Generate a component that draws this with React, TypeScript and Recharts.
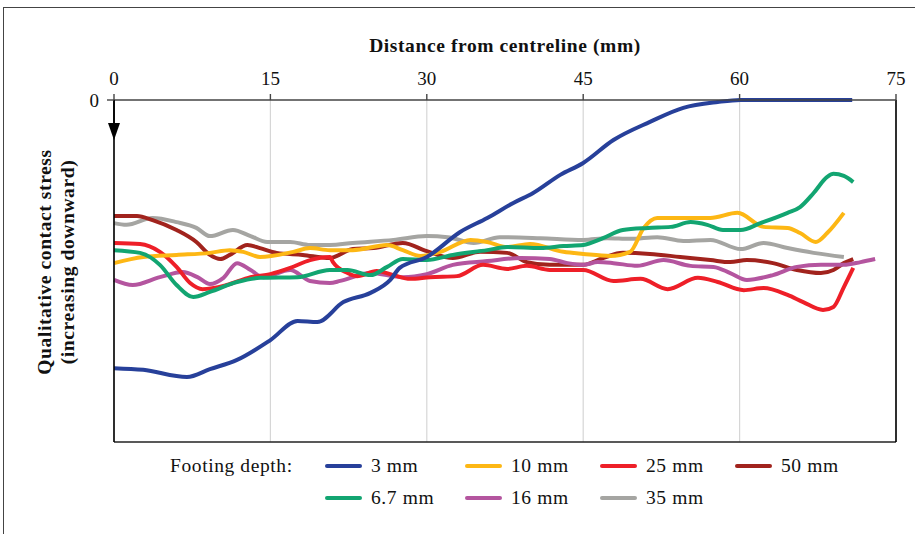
import React from 'react';
import { LineChart, Line, XAxis, YAxis, CartesianGrid, ReferenceLine } from 'recharts';

// distance from centreline (mm), qualitative stress (0 at top, increasing downward)
const depth3mm: [number, number][] = [
  [0, 78.4], [2.8, 78.9], [7.0, 81.0], [9.2, 78.7], [11.8, 76.0], [15.0, 70.2], [17.6, 64.6],
  [19.5, 64.9], [22.0, 59.1], [24.6, 56.4], [26.5, 52.6], [27.4, 49.1], [30.0, 45.9], [33.2, 38.6],
  [35.8, 34.5], [38.3, 30.1], [40.2, 27.2], [42.8, 21.9], [45.0, 18.4], [47.9, 11.7], [51.4, 6.4],
  [54.6, 2.3], [57.9, 0.6], [60.1, 0], [65.0, 0], [70.8, 0],
];
const depth6_7mm: [number, number][] = [
  [0, 43.9], [2.5, 44.7], [4.4, 48.2], [6.0, 54.1], [7.6, 57.6], [9.2, 56.1], [11.8, 53.2],
  [14.0, 52.0], [17.6, 51.8], [20.7, 49.7], [22.4, 49.7], [24.6, 51.2], [26.2, 48.8], [27.7, 46.5],
  [30.0, 46.8], [32.5, 45.3], [35.8, 43.9], [37.7, 43.0], [40.9, 43.3], [43.1, 42.7], [45.0, 42.4],
  [46.9, 40.4], [48.8, 38.0], [51.2, 37.4], [53.4, 37.1], [55.3, 35.7], [56.9, 36.5], [58.4, 38.0],
  [60.1, 38.0], [62.0, 36.0], [64.6, 33.0], [65.8, 31.3], [67.1, 27.2], [68.4, 22.5], [69.0, 21.6],
  [70.0, 22.2], [70.9, 24.0],
];
const depth10mm: [number, number][] = [
  [0, 47.7], [2.8, 45.9], [6.0, 45.3], [9.2, 44.7], [11.1, 43.9], [12.4, 44.4], [14.0, 45.9],
  [17.2, 44.4], [18.8, 43.3], [20.7, 43.9], [22.9, 43.9], [26.2, 42.4], [27.7, 43.9], [29.4, 45.6],
  [31.3, 44.4], [34.2, 40.9], [35.8, 41.5], [37.7, 43.0], [39.9, 42.1], [43.1, 44.4], [45.0, 45.0],
  [47.6, 45.6], [49.5, 44.4], [50.8, 37.4], [52.1, 34.5], [54.3, 34.5], [57.2, 34.5], [59.8, 33.0],
  [62.3, 37.1], [64.6, 37.4], [65.8, 38.9], [67.3, 41.5], [68.4, 38.9], [70.0, 33.0],
];
const depth16mm: [number, number][] = [
  [0, 52.6], [1.8, 54.1], [4.4, 51.8], [6.6, 50.3], [8.0, 51.8], [9.2, 53.8], [10.5, 52.0],
  [11.8, 47.7], [13.1, 49.7], [14.3, 51.8], [16.9, 49.7], [18.8, 52.9], [20.7, 53.5], [21.7, 52.9],
  [24.6, 50.6], [27.7, 51.8], [30.0, 50.9], [32.5, 48.2], [35.8, 47.1], [39.0, 46.2], [41.8, 46.5],
  [43.5, 47.7], [45.0, 48.2], [46.4, 47.4], [47.9, 47.7], [50.2, 48.5], [52.7, 46.8], [55.3, 48.5],
  [57.5, 48.8], [59.1, 50.6], [60.7, 52.6], [63.2, 51.2], [65.5, 48.8], [67.8, 48.2], [70.0, 48.2],
  [71.6, 47.4], [73.0, 46.5],
];
const depth25mm: [number, number][] = [
  [0, 41.8], [2.5, 42.1], [4.4, 44.4], [6.0, 48.8], [7.3, 53.5], [8.5, 55.3], [10.8, 54.1],
  [13.1, 51.8], [15.0, 50.9], [16.9, 49.1], [18.8, 46.8], [20.7, 45.9], [21.0, 47.4], [22.4, 50.6],
  [23.3, 51.5], [25.2, 50.0], [26.8, 51.2], [28.4, 52.3], [30.3, 51.8], [32.9, 51.5], [35.4, 48.2],
  [37.7, 49.4], [39.6, 48.5], [41.8, 49.7], [45.0, 49.7], [47.9, 52.9], [50.5, 52.3], [53.1, 55.3],
  [56.0, 52.0], [57.9, 53.2], [60.4, 55.6], [62.3, 55.0], [64.6, 57.0], [66.1, 59.1], [68.0, 61.4],
  [69.0, 60.5], [70.0, 54.7], [70.9, 49.1],
];
const depth35mm: [number, number][] = [
  [0, 36.0], [1.2, 36.5], [3.7, 34.5], [6.0, 35.7], [7.9, 37.4], [9.2, 39.8], [11.4, 38.0],
  [13.1, 39.8], [14.7, 41.5], [16.9, 41.5], [18.8, 42.4], [20.7, 42.4], [22.9, 41.8], [26.8, 40.9],
  [30.0, 39.8], [32.0, 40.1], [34.5, 41.8], [37.0, 40.1], [40.9, 40.4], [45.0, 40.9], [47.3, 40.4],
  [49.5, 40.6], [52.1, 40.1], [54.6, 41.2], [57.2, 40.9], [60.1, 43.6], [62.3, 41.8], [64.6, 43.3],
  [67.1, 44.7], [70.0, 45.9],
];
const depth50mm: [number, number][] = [
  [0, 33.9], [2.2, 33.9], [3.7, 35.1], [6.0, 38.0], [7.9, 41.5], [9.2, 45.3], [10.2, 46.5],
  [11.1, 45.3], [12.8, 42.4], [14.0, 43.3], [15.6, 44.7], [18.1, 45.3], [20.7, 46.2], [22.9, 43.6],
  [24.9, 43.3], [27.7, 41.8], [30.0, 44.2], [32.5, 46.2], [35.1, 44.4], [37.7, 44.7], [39.6, 47.4],
  [41.8, 48.2], [45.0, 48.2], [46.9, 46.2], [48.8, 44.7], [51.4, 45.0], [54.3, 45.9], [57.2, 46.8],
  [59.1, 47.4], [60.7, 46.8], [63.2, 47.7], [65.5, 49.7], [67.8, 50.6], [69.0, 49.7], [70.0, 47.7],
  [70.9, 46.5],
];

const xTicks = [0, 15, 30, 45, 60, 75];
const yTicks = [0];

// legend order: column by column, two rows
const series = [
  { name: '3 mm', color: '#27409a', data: depth3mm },
  { name: '6.7 mm', color: '#12a571', data: depth6_7mm },
  { name: '10 mm', color: '#fdb714', data: depth10mm },
  { name: '16 mm', color: '#b4559f', data: depth16mm },
  { name: '25 mm', color: '#ee1f28', data: depth25mm },
  { name: '35 mm', color: '#a5a5a2', data: depth35mm },
  { name: '50 mm', color: '#a1231d', data: depth50mm },
];

// drawing order: deepest footing first so 3 mm sits on top
const drawOrder = ['35 mm', '50 mm', '16 mm', '25 mm', '10 mm', '6.7 mm', '3 mm'];

const toPoints = (pts: [number, number][]) => pts.map(([x, y]) => ({ x, y }));

const serif = '"Liberation Serif", "DejaVu Serif", serif';
const textStyle = { fontFamily: serif, fontSize: 19.5, letterSpacing: 0.6, color: '#111' };

const ArrowDown = (props: any) => {
  const { x1, y1, y2 } = props;
  return (
    <g>
      <line x1={x1} y1={y1} x2={x1} y2={y2 - 12} stroke="#000" strokeWidth={1.6} />
      <polygon points={`${x1 - 6},${y2 - 17} ${x1 + 6},${y2 - 17} ${x1},${y2}`} fill="#000" />
    </g>
  );
};

const LegendBlock = () => (
  <div style={{ position: 'absolute', left: 0, top: 450, width: 915, height: 70, ...textStyle }}>
    <div style={{ position: 'absolute', left: 170, top: 4, lineHeight: '24px' }}>Footing depth:</div>
    {series.map((s, i) => {
      const col = Math.floor(i / 2);
      const row = i % 2;
      const left = [325, 465, 600, 735][col];
      const top = 4 + row * 32;
      return (
        <div key={s.name} style={{ position: 'absolute', left, top, height: 24, display: 'flex', alignItems: 'center' }}>
          <span style={{ display: 'inline-block', width: 37, height: 4, borderRadius: 2, background: s.color, marginRight: 9 }} />
          <span style={{ lineHeight: '24px' }}>{s.name}</span>
        </div>
      );
    })}
  </div>
);

export default function App() {
  return (
    <div style={{ position: 'absolute', left: 0, top: 0, width: 915, height: 534, overflow: 'hidden', background: '#fff' }}>
      <div style={{ position: 'absolute', left: 3, top: 7, width: 930, height: 560, border: '1.5px solid #444' }} />
      <div style={{ position: 'absolute', left: 0, top: 35, width: 1010, textAlign: 'center', ...textStyle, fontWeight: 'bold' }}>
        Distance from centreline (mm)
      </div>
      <div style={{ position: 'absolute', left: 56, top: 263, width: 0, height: 0 }}>
        <div
          style={{
            position: 'absolute', left: -160, top: -24, width: 320, textAlign: 'center',
            transform: 'rotate(-90deg)', ...textStyle, fontWeight: 'bold', lineHeight: '23px',
          }}
        >
          Qualitative contact stress
          <br />
          (increasing downward)
        </div>
      </div>
      <div style={{ position: 'absolute', left: 0, top: 0 }}>
        <LineChart width={915} height={534} margin={{ top: 70, right: 19, bottom: 92, left: 74 }}>
          <CartesianGrid horizontal={false} stroke="#d6d6d6" strokeWidth={1.2} />
          <XAxis
            dataKey="x"
            type="number"
            orientation="top"
            domain={[0, 75]}
            ticks={xTicks}
            allowDuplicatedCategory={false}
            axisLine={{ stroke: '#444', strokeWidth: 1.6 }}
            tickLine={{ stroke: '#444', strokeWidth: 1.4 }}
            tickSize={6}
            tickMargin={9}
            tick={{ fontFamily: serif, fontSize: 19, fill: '#111' }}
            height={30}
          />
          <YAxis
            dataKey="y"
            type="number"
            domain={[0, 100]}
            reversed
            ticks={yTicks}
            width={40}
            axisLine={{ stroke: '#000', strokeWidth: 1.6 }}
            tickLine={{ stroke: '#444', strokeWidth: 1.4 }}
            tickSize={7}
            tickMargin={8}
            tick={{ fontFamily: serif, fontSize: 19, fill: '#111' }}
          />
          <ReferenceLine y={100} stroke="#222" strokeWidth={1.6} />
          <ReferenceLine x={75} stroke="#000" strokeWidth={1.6} />
          {drawOrder.map((name) => {
            const s = series.find((d) => d.name === name)!;
            return (
              <Line
                key={s.name}
                data={toPoints(s.data)}
                dataKey="y"
                name={s.name}
                type="monotone"
                stroke={s.color}
                strokeWidth={4}
                dot={false}
                activeDot={false}
                isAnimationActive={false}
              />
            );
          })}
          <ReferenceLine segment={[{ x: 0, y: 0 }, { x: 0, y: 11.7 }]} shape={ArrowDown} />
        </LineChart>
      </div>
      <LegendBlock />
    </div>
  );
}
